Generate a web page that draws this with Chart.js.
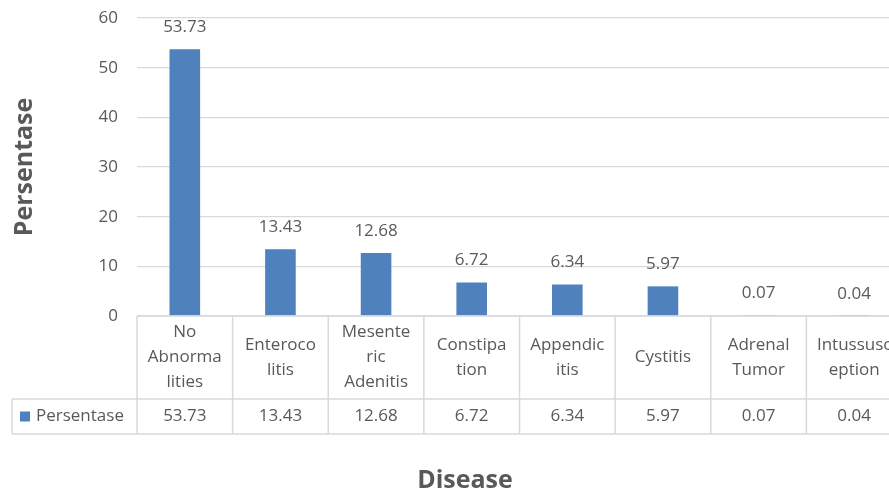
<!DOCTYPE html>
<html>
<head>
<meta charset="utf-8">
<script src="https://cdn.jsdelivr.net/npm/chart.js@4/dist/chart.umd.min.js"></script>
<style>
  html, body { margin: 0; padding: 0; background: #fff; overflow: hidden; }
  #wrap { width: 906px; height: 495px; }
</style>
</head>
<body>
<div id="wrap"><canvas id="chart"></canvas></div>
<script>
// categories as they wrap inside the data table header
const categories = [
  ["No", "Abnorma", "lities"],
  ["Enteroco", "litis"],
  ["Mesente", "ric", "Adenitis"],
  ["Constipa", "tion"],
  ["Appendic", "itis"],
  ["Cystitis"],
  ["Adrenal", "Tumor"],
  ["Intussusc", "eption"]
];
const seriesName = "Persentase";
const values = [53.73, 13.43, 12.68, 6.72, 6.34, 5.97, 0.07, 0.04];
const yTicks = [0, 10, 20, 30, 40, 50, 60];
const xTitle = "Disease";
const yTitle = "Persentase";

const textColor = "#595959";
const lineColor = "#d9d9d9";
const barColor = "#4f81bd";
const fontFamily = "'Open Sans', sans-serif";

// bar value labels + data table under the plot
const tablePlugin = {
  id: "dataTable",
  afterDraw(chart) {
    const ctx = chart.ctx;
    const x = chart.scales.x;
    const area = chart.chartArea;
    const meta = chart.getDatasetMeta(0);
    const step = x.getPixelForValue(1) - x.getPixelForValue(0);
    const headTop = area.bottom;
    const headBottom = headTop + 83;
    const rowBottom = headBottom + 35;
    const tableLeft = 12;

    ctx.save();
    ctx.font = "17px " + fontFamily;
    ctx.fillStyle = textColor;
    ctx.textAlign = "center";
    ctx.textBaseline = "middle";

    // value labels above bars
    meta.data.forEach((bar, i) => {
      ctx.fillText(values[i].toFixed(2), bar.x, bar.y - 22);
    });

    // grid of the table
    ctx.strokeStyle = lineColor;
    ctx.lineWidth = 1.5;
    ctx.beginPath();
    ctx.moveTo(area.left, headTop);
    ctx.lineTo(chart.width, headTop);
    ctx.moveTo(tableLeft, headBottom);
    ctx.lineTo(chart.width, headBottom);
    ctx.moveTo(tableLeft, rowBottom);
    ctx.lineTo(chart.width, rowBottom);
    ctx.moveTo(tableLeft, headBottom);
    ctx.lineTo(tableLeft, rowBottom);
    for (let i = 0; i <= categories.length; i++) {
      const bx = x.getPixelForValue(i) - step / 2;
      ctx.moveTo(bx, headTop);
      ctx.lineTo(bx, rowBottom);
    }
    ctx.stroke();

    // header labels and values
    const lineH = 25;
    const headMid = (headTop + headBottom) / 2;
    const rowMid = (headBottom + rowBottom) / 2;
    categories.forEach((lines, i) => {
      const cx = x.getPixelForValue(i);
      const y0 = headMid - (lines.length - 1) * lineH / 2;
      lines.forEach((ln, k) => ctx.fillText(ln, cx, y0 + k * lineH));
      ctx.fillText(values[i].toFixed(2), cx, rowMid);
    });

    // legend key in the row header
    ctx.fillStyle = barColor;
    ctx.fillRect(20, rowMid - 5, 10, 10);
    ctx.fillStyle = textColor;
    ctx.textAlign = "left";
    ctx.fillText(seriesName, 36, rowMid);

    // x axis title, centred on the whole figure like the original
    ctx.font = "bold 25px " + fontFamily;
    ctx.textAlign = "center";
    ctx.fillText(xTitle, 465, 481);
    ctx.restore();
  }
};

new Chart(document.getElementById("chart"), {
  type: "bar",
  data: {
    labels: categories.map(c => c.join("")),
    datasets: [{
      label: seriesName,
      data: values,
      backgroundColor: barColor,
      categoryPercentage: 1,
      barPercentage: 0.32
    }]
  },
  options: {
    responsive: true,
    maintainAspectRatio: false,
    animation: false,
    layout: { padding: { left: 6, top: 18, right: 4, bottom: 0 } },
    plugins: {
      legend: { display: false },
      tooltip: { enabled: false }
    },
    scales: {
      x: {
        grid: { display: false },
        border: { display: false },
        ticks: { display: false },
        afterFit(scale) { scale.height = 179; }
      },
      y: {
        min: 0,
        max: 60,
        afterBuildTicks(scale) { scale.ticks = yTicks.map(v => ({ value: v })); },
        grid: { color: lineColor, lineWidth: 1.3, drawTicks: true, tickLength: 19, tickColor: "rgba(0,0,0,0)" },
        border: { display: false },
        ticks: {
          color: textColor,
          padding: 0,
          font: { family: fontFamily, size: 17 }
        },
        title: {
          display: true,
          text: yTitle,
          color: textColor,
          font: { family: fontFamily, size: 25, weight: "bold" },
          padding: { top: 4, bottom: 0 }
        },
        afterFit(scale) { scale.width = 131; }
      }
    }
  },
  plugins: [tablePlugin]
});
</script>
</body>
</html>
